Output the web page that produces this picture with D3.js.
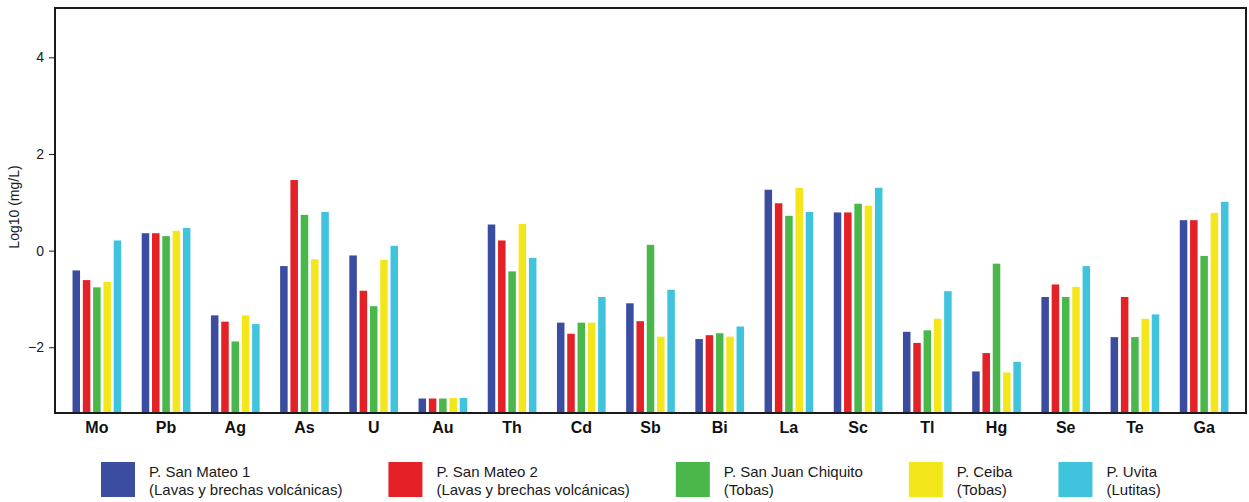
<!DOCTYPE html>
<html>
<head>
<meta charset="utf-8">
<script src="https://cdn.jsdelivr.net/npm/d3@7"></script>
<style>
  html, body { margin: 0; padding: 0; background: #fff; }
  svg { display: block; font-family: "Liberation Sans", Arial, sans-serif; }
</style>
</head>
<body>
<svg id="chart" width="1249" height="502"></svg>
<script>
const categories = ["Mo","Pb","Ag","As","U","Au","Th","Cd","Sb","Bi","La","Sc","Tl","Hg","Se","Te","Ga"];
const seriesNames = ["P. San Mateo 1","P. San Mateo 2","P. San Juan Chiquito","P. Ceiba","P. Uvita"];
const seriesSub = ["(Lavas y brechas volcánicas)","(Lavas y brechas volcánicas)","(Tobas)","(Tobas)","(Lutitas)"];
const sanMateo1 = [-0.41, 0.36, -1.34, -0.32, -0.10, -3.06, 0.54, -1.49, -1.09, -1.83, 1.26, 0.79, -1.68, -2.50, -0.96, -1.79, 0.63];
const sanMateo2 = [-0.61, 0.36, -1.47, 1.46, -0.83, -3.06, 0.21, -1.72, -1.46, -1.75, 0.98, 0.79, -1.91, -2.12, -0.70, -0.96, 0.63];
const sanJuanChiquito = [-0.76, 0.30, -1.88, 0.74, -1.15, -3.06, -0.43, -1.49, 0.12, -1.71, 0.72, 0.97, -1.65, -0.27, -0.96, -1.79, -0.11];
const ceiba = [-0.65, 0.41, -1.34, -0.18, -0.19, -3.05, 0.55, -1.49, -1.78, -1.78, 1.30, 0.93, -1.41, -2.52, -0.75, -1.41, 0.78];
const uvita = [0.21, 0.47, -1.52, 0.80, 0.10, -3.05, -0.15, -0.96, -0.81, -1.57, 0.80, 1.30, -0.84, -2.30, -0.32, -1.32, 1.01];
const yTicks = [-2, 0, 2, 4];
const colors = ["#3b4da0", "#e52128", "#4ab74a", "#f3e71c", "#40c4de"];

const seriesValues = [sanMateo1, sanMateo2, sanJuanChiquito, ceiba, uvita];

const svg = d3.select("#chart");
const plot = { left: 55, right: 1246, top: 8, bottom: 413 };
const yMin = -3.36, yMax = 5.02;

const y = d3.scaleLinear().domain([yMin, yMax]).range([plot.bottom, plot.top]);
const x = d3.scaleBand().domain(categories).range([plot.left, plot.right]).paddingInner(0).paddingOuter(0.105);
const groupW = 48.7;
const x1 = d3.scaleBand().domain(seriesNames)
  .range([(x.bandwidth() - groupW) / 2, (x.bandwidth() + groupW) / 2])
  .paddingInner(0.27).paddingOuter(0);
const color = d3.scaleOrdinal().domain(seriesNames).range(colors);

// bars
const groups = svg.append("g").selectAll("g")
  .data(categories)
  .join("g")
  .attr("transform", d => `translate(${x(d)},0)`);

groups.selectAll("rect")
  .data((c, i) => seriesNames.map((s, j) => ({ s, v: seriesValues[j][i] })))
  .join("rect")
  .attr("x", d => x1(d.s))
  .attr("width", x1.bandwidth())
  .attr("y", d => y(d.v))
  .attr("height", d => y(yMin) - y(d.v))
  .attr("fill", d => color(d.s));

// frame
svg.append("rect")
  .attr("x", plot.left).attr("y", plot.top)
  .attr("width", plot.right - plot.left).attr("height", plot.bottom - plot.top)
  .attr("fill", "none").attr("stroke", "#1a1a1a").attr("stroke-width", 2);

// y axis
const yAxis = svg.append("g")
  .attr("transform", `translate(${plot.left},0)`)
  .call(d3.axisLeft(y).tickValues(yTicks).tickSize(6).tickPadding(5));
yAxis.select(".domain").remove();
yAxis.selectAll(".tick line").attr("stroke", "#1a1a1a").attr("stroke-width", 1);
yAxis.selectAll(".tick text").attr("font-size", 14).attr("fill", "#1a1a1a")
  .attr("font-family", "'Liberation Sans', Arial, sans-serif");

svg.append("text")
  .attr("transform", `translate(19,207) rotate(-90)`)
  .attr("text-anchor", "middle")
  .attr("font-size", 14)
  .attr("fill", "#1a1a1a")
  .text("Log10 (mg/L)");

// x axis
const xAxis = svg.append("g")
  .attr("transform", `translate(0,${plot.bottom})`)
  .call(d3.axisBottom(x).tickSize(0).tickPadding(9));
xAxis.select(".domain").remove();
xAxis.selectAll(".tick text").attr("font-size", 16).attr("font-weight", "bold")
  .attr("fill", "#111").attr("font-family", "'Liberation Sans', Arial, sans-serif");

// legend (flow layout)
const legend = svg.append("g");
let lx = 101;
seriesNames.forEach((name, i) => {
  const g = legend.append("g").attr("transform", `translate(${lx},0)`);
  g.append("rect").attr("x", 0).attr("y", 462).attr("width", 34).attr("height", 35)
    .attr("fill", colors[i]);
  const t1 = g.append("text").attr("x", 48).attr("y", 477).attr("font-size", 15)
    .attr("fill", "#1a1a1a").text(name);
  const t2 = g.append("text").attr("x", 48).attr("y", 495).attr("font-size", 15)
    .attr("fill", "#1a1a1a").text(seriesSub[i]);
  const w = Math.max(t1.node().getComputedTextLength(), t2.node().getComputedTextLength());
  lx += 48 + w + 46;
});
</script>
</body>
</html>
